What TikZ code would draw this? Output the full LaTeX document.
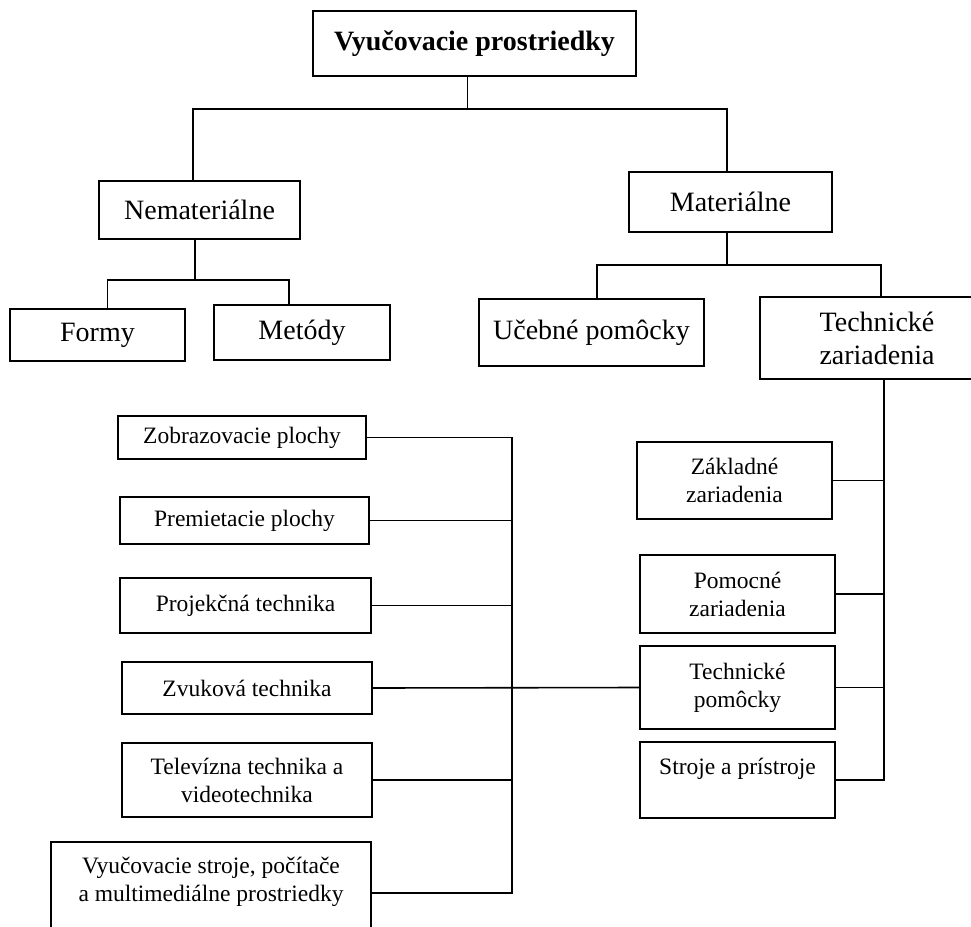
\documentclass[tikz,border=0pt]{standalone}
\usepackage{fontspec}
\setmainfont{Liberation Serif}
\usetikzlibrary{calc}
\tikzset{
	bigbox/.style={draw, line width=1.6pt, align=center, inner sep=0pt, font=\fontsize{28}{33}\selectfont},
	smallbox/.style={draw, line width=1.6pt, align=center, inner sep=0pt, font=\fontsize{23.5}{28}\selectfont},
	conn/.style={line width=1.6pt}
}

\begin{document}
\begin{tikzpicture}[x=1pt, y=-1pt]
			%%%%% START %%%%%
			\useasboundingbox (0,0) rectangle (971,926);
			\clip (0,0) rectangle (971,926);
			
			\node[bigbox, minimum width=323, minimum height=65, font=\fontsize{28}{33}\selectfont\bfseries] (root) at (474.5,43.5) {Vyučovacie prostriedky};
			
			\node[bigbox, minimum width=201, minimum height=58] (nemat) at (199.5,210) {Nemateriálne};
			\node[bigbox, minimum width=203, minimum height=60] (mat) at (730.5,202) {Materiálne};
			
			\node[bigbox, minimum width=175, minimum height=52] (formy) at (97.5,335) {Formy};
			\node[bigbox, minimum width=176, minimum height=55] (metody) at (302,332.5) {Metódy};
			\node[bigbox, minimum width=225, minimum height=67] (ucebne) at (591.5,332.5) {Učebné pomôcky};
			\node[bigbox, minimum width=234, minimum height=82] (techz) at (877,338) {Technické\\zariadenia};
			
			\node[smallbox, minimum width=248, minimum height=43] (zobraz) at (242,437.5) {Zobrazovacie plochy};
			\node[smallbox, minimum width=249, minimum height=47] (premiet) at (244.5,520.5) {Premietacie plochy};
			\node[smallbox, minimum width=251, minimum height=55] (projek) at (245.5,605.5) {Projekčná technika};
			\node[smallbox, minimum width=250, minimum height=52] (zvuk) at (247,688) {Zvuková technika};
			\node[smallbox, minimum width=250, minimum height=74] (telev) at (247,780) {Televízna technika a\\videotechnika};
			\node[smallbox, minimum width=320, minimum height=102] (vyucs) at (211,893) {Vyučovacie stroje, počítače\\a multimediálne prostriedky\\~};
			
			\node[smallbox, minimum width=195, minimum height=77] (zakl) at (734.5,480.5) {Základné\\zariadenia};
			\node[smallbox, minimum width=195, minimum height=78] (pomoc) at (737.5,594) {Pomocné\\zariadenia};
			\node[smallbox, minimum width=195, minimum height=83] (techp) at (737.5,687.5) {Technické\\pomôcky};
			\node[smallbox, minimum width=195, minimum height=76] (stroje) at (737.5,780) {Stroje a prístroje\\~};
			
			% upper tree
			\draw[conn] ([xshift=-7pt]root.south) -- ++(0,32) coordinate (topbus) -| ([xshift=-6.5pt]nemat.north);
			\draw[conn] (topbus) -| ([xshift=-3.5pt]mat.north);
			\draw[conn] ([xshift=-4.5pt]nemat.south) -- ++(0,40) coordinate (nbus) -| ([xshift=10pt]formy.north);
			\draw[conn] (nbus) -| ([xshift=-13pt]metody.north);
			\draw[conn] ([xshift=-3.5pt]mat.south) -- ++(0,32) coordinate (mbus) -| ([xshift=5.5pt]ucebne.north);
			\draw[conn] (mbus) -| ([xshift=4pt]techz.north);
			
			% right group
			\coordinate (rbus) at ([xshift=7pt]techz.south);
			\draw[conn] (rbus) |- (stroje.east);
			\foreach \n in {zakl,pomoc,techp}
				\draw[conn] (\n.east) -- (\n.east -| rbus);
			
			% left group
			\coordinate (lbus) at ([xshift=145pt]zobraz.east);
			\draw[conn] (zobraz.east) -- (lbus) |- (vyucs.east);
			\foreach \n in {premiet,projek,telev}
				\draw[conn] (\n.east) -- (\n.east -| lbus);
			\draw[conn] (zvuk.east) -- (techp.west);
			
			%%%%% END %%%%%
\end{tikzpicture}
\end{document}
